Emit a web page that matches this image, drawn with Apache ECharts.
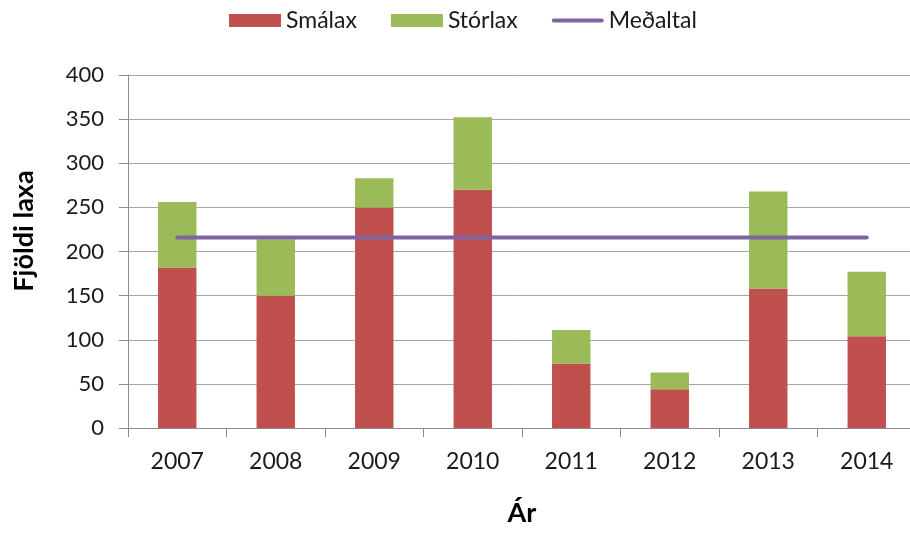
<!DOCTYPE html>
<html>
<head>
<meta charset="utf-8">
<script src="https://cdn.jsdelivr.net/npm/echarts@6/dist/echarts.min.js"></script>
<style>
html,body{margin:0;padding:0;background:#fff;}
#chart{width:910px;height:533px;}
</style>
</head>
<body>
<div id="chart"></div>
<script>
var years = ['2007','2008','2009','2010','2011','2012','2013','2014'];
var smalax = [182, 150, 250, 270, 73, 44, 158, 104];
var storlax = [74, 64, 33, 82, 38, 19, 110, 73];
var medaltal = [216, 216, 216, 216, 216, 216, 216, 216];
var yTicks = [0, 50, 100, 150, 200, 250, 300, 350, 400];

var FONT = 'Lato, "Open Sans", sans-serif';
var lineIcon = 'path://M0,0L0.01,0L0.01,0.01Z M0,13L0.01,13L0.01,12.99Z M2,4.5L50,4.5A2,2 0 0 1 50,8.5L2,8.5A2,2 0 0 1 2,4.5Z M51.99,0L52,0L52,0.01Z';
var chart = echarts.init(document.getElementById('chart'), null, {renderer: 'canvas'});
chart.setOption({
  animation: false,
  backgroundColor: '#ffffff',
  textStyle: {fontFamily: FONT},
  legend: {
    left: 229,
    top: 9,
    padding: 0,
    itemWidth: 52,
    itemHeight: 13,
    itemGap: 34,
    textStyle: {fontFamily: FONT, fontSize: 23, color: '#1a1a1a'},
    data: [
      {name: 'Smálax', icon: 'rect'},
      {name: 'Stórlax', icon: 'rect'},
      {name: 'Meðaltal', icon: lineIcon}
    ]
  },
  grid: {left: 128, right: -6, top: 75, bottom: 105, containLabel: false, outerBoundsMode: 'none'},
  graphic: [{
    type: 'text',
    x: 24,
    y: 231,
    rotation: Math.PI / 2,
    style: {
      text: 'Fjöldi laxa',
      fontFamily: FONT,
      fontSize: 27,
      fontWeight: 'bold',
      fill: '#000',
      align: 'center',
      verticalAlign: 'middle'
    }
  }],
  xAxis: {
    type: 'category',
    data: years,
    name: 'Ár',
    nameLocation: 'middle',
    nameGap: 72,
    nameTextStyle: {fontFamily: FONT, fontSize: 27, fontWeight: 'bold', color: '#000'},
    axisLine: {lineStyle: {color: '#8c8c8c', width: 1}},
    axisTick: {show: true, length: 9, alignWithLabel: false, lineStyle: {color: '#8c8c8c'}},
    axisLabel: {fontFamily: FONT, fontSize: 23, color: '#1a1a1a', margin: 22}
  },
  yAxis: {
    type: 'value',
    min: yTicks[0],
    max: yTicks[yTicks.length - 1],
    interval: yTicks[1] - yTicks[0],
    axisLine: {show: true, lineStyle: {color: '#8c8c8c', width: 1}},
    axisTick: {show: true, length: 9, lineStyle: {color: '#8c8c8c'}},
    axisLabel: {fontFamily: FONT, fontSize: 22, color: '#1a1a1a', margin: 24},
    splitLine: {show: true, lineStyle: {color: '#a6a6a6', width: 1}}
  },
  series: [
    {
      name: 'Smálax',
      type: 'bar',
      stack: 'total',
      barWidth: '39%',
      data: smalax,
      itemStyle: {color: '#C0504D'}
    },
    {
      name: 'Stórlax',
      type: 'bar',
      stack: 'total',
      barWidth: '39%',
      data: storlax,
      itemStyle: {color: '#9BBB59'}
    },
    {
      name: 'Meðaltal',
      type: 'line',
      data: medaltal,
      symbol: 'none',
      showSymbol: false,
      z: 5,
      lineStyle: {color: '#8064A2', width: 4, cap: 'round'},
      itemStyle: {color: '#8064A2'}
    }
  ]
});
</script>
</body>
</html>
